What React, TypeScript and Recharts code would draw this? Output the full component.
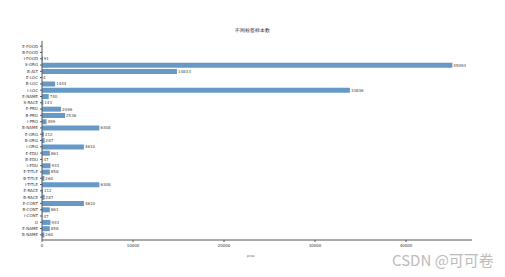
import { BarChart, Bar, XAxis, YAxis, LabelList } from "recharts"

const labels = [
  "E-FOOD", "B-FOOD", "I-FOOD", "S-ORG", "B-ALT", "E-LOC", "B-LOC", "I-LOC",
  "E-NAME", "S-RACE", "E-PRO", "B-PRO", "I-PRO", "B-NAME", "E-ORG", "B-ORG",
  "I-ORG", "E-EDU", "B-EDU", "I-EDU", "E-TITLE", "B-TITLE", "I-TITLE", "E-RACE",
  "B-RACE", "E-CONT", "B-CONT", "I-CONT", "O", "E-NAME", "B-NAME",
]
const counts = [
  0, 0, 91, 45093, 14833, 4, 1444, 33836,
  740, 143, 2096, 2536, 499, 6308, 212, 287,
  4610, 861, 47, 933, 858, 260, 6308, 112,
  287, 4610, 861, 47, 933, 858, 260,
]
const xTicks = [0, 10000, 20000, 30000, 40000]

const data = labels.map((label, i) => ({ idx: i, label, count: counts[i] }))

export default function App() {
  return (
    <div style={{ position: "absolute", left: 0, top: 0, width: 505, height: 277, background: "#fff", fontFamily: "DejaVu Sans" }}>
      <div style={{ position: "absolute", top: 27, width: 505, textAlign: "center", fontSize: 5, color: "#222" }}>
        不同标签样本数
      </div>
      <BarChart
        width={505}
        height={277}
        data={data}
        layout="vertical"
        barCategoryGap="12%"
        margin={{ top: 41, right: 33, left: 10, bottom: 20 }}
      >
        <XAxis
          type="number"
          dataKey="count"
          domain={[0, 47250]}
          ticks={xTicks}
          tick={{ fontSize: 4, fill: "#333" }}
          tickSize={2}
          stroke="#555"
          height={17}
        />
        <XAxis xAxisId="top" orientation="top" type="number" domain={[0, 47250]} tick={false} tickLine={false} stroke="#555" height={0} />
        <YAxis
          type="category"
          dataKey="idx"
          interval={0}
          padding={{ top: 2, bottom: 2 }}
          tickFormatter={(v: number) => labels[v]}
          tick={{ fontSize: 4, fill: "#333" }}
          tickSize={2}
          stroke="#555"
          width={32}
        />
        <YAxis yAxisId="right" orientation="right" type="category" dataKey="idx" tick={false} tickLine={false} stroke="#555" width={0} />
        <Bar dataKey="count" fill="#6699c8" isAnimationActive={false}>
          <LabelList dataKey="count" position="right" offset={1} style={{ fontSize: 4, fill: "#444" }} />
        </Bar>
      </BarChart>
      <div style={{ position: "absolute", top: 254, left: 247, fontSize: 3, color: "#444" }}>price</div>
      <div style={{ position: "absolute", top: 249, left: 392, fontSize: 15, color: "#bbb", fontFamily: "Noto Sans CJK SC", whiteSpace: "nowrap" }}>
        CSDN @可可卷
      </div>
    </div>
  )
}
